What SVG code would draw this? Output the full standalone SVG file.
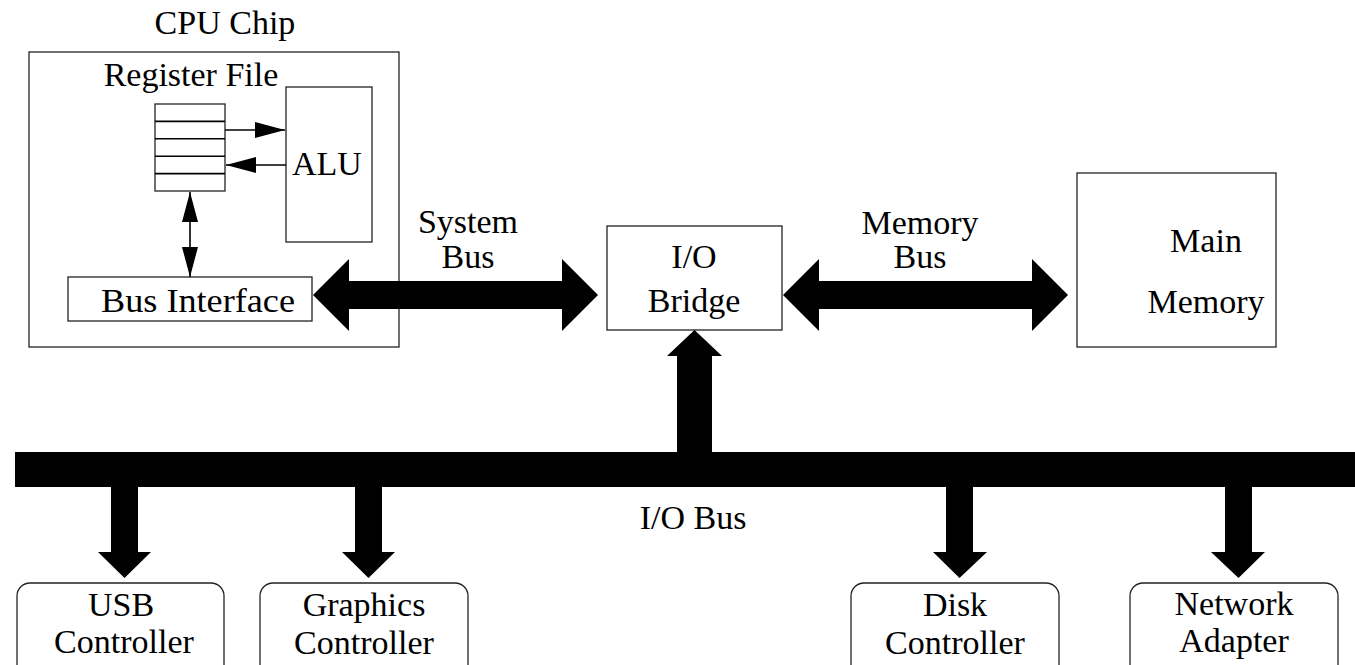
<svg xmlns="http://www.w3.org/2000/svg" width="1355" height="665" viewBox="0 0 1355 665">
<style>
  .t { font-family: 'Liberation Serif', 'Times New Roman', Tinos, 'Nimbus Roman', 'DejaVu Serif', serif; font-size: 34px; fill: #000; text-anchor: middle; }
  .box { fill: #fff; stroke: #222; stroke-width: 1.3; }
  .thin { stroke: #000; stroke-width: 1.6; fill: none; }
  .fat { fill: #000; stroke: none; }
</style>
<defs>
  <marker id="ah" viewBox="0 0 30 16" refX="30" refY="8" markerWidth="30" markerHeight="16" markerUnits="userSpaceOnUse" orient="auto-start-reverse">
    <path d="M0,0 L30,8 L0,16 Z" fill="#000"/>
  </marker>
</defs>
<rect width="1355" height="665" fill="#fff"/>

<g font-family="Liberation Serif, serif" font-size="34" text-anchor="middle">
<g id="cpu-chip">
  <rect class="box" x="29" y="52" width="370" height="295"/>
  <text class="t" x="225" y="34">CPU Chip</text>
</g>
<g id="register-file">
  <text class="t" x="191" y="86">Register File</text>
  <rect class="box" x="155" y="104" width="70" height="87"/>
  <path class="thin" d="M155,121.4 H225 M155,138.8 H225 M155,156.2 H225 M155,173.6 H225" stroke-width="1.2"/>
</g>
<g id="alu">
  <rect class="box" x="286" y="87" width="86" height="155"/>
  <text class="t" x="327" y="175">ALU</text>
</g>
<g id="bus-interface">
  <rect class="box" x="68" y="277" width="244" height="44"/>
  <text class="t" x="198" y="312" textLength="194" lengthAdjust="spacingAndGlyphs">Bus Interface</text>
</g>
<g id="io-bridge">
  <rect class="box" x="607" y="226" width="175" height="104"/>
  <text class="t" x="694" y="268">I/O</text>
  <text class="t" x="694" y="312">Bridge</text>
</g>
<g id="main-memory">
  <rect class="box" x="1077" y="173" width="199" height="174"/>
  <text class="t" x="1206" y="252">Main</text>
  <text class="t" x="1206" y="313">Memory</text>
</g>
<g id="usb-controller">
  <rect class="box" x="17" y="583" width="207" height="100" rx="13"/>
  <text class="t" x="121" y="616">USB</text>
  <text class="t" x="124" y="653">Controller</text>
</g>
<g id="graphics-controller">
  <rect class="box" x="260" y="583" width="208" height="100" rx="13"/>
  <text class="t" x="364" y="616">Graphics</text>
  <text class="t" x="364" y="654">Controller</text>
</g>
<g id="disk-controller">
  <rect class="box" x="851" y="583" width="208" height="100" rx="13"/>
  <text class="t" x="955" y="616">Disk</text>
  <text class="t" x="955" y="654">Controller</text>
</g>
<g id="network-adapter">
  <rect class="box" x="1130" y="583" width="208" height="100" rx="13"/>
  <text class="t" x="1234" y="615">Network</text>
  <text class="t" x="1234" y="652">Adapter</text>
</g>

<g id="connectors">
  <line class="thin" x1="225" y1="130" x2="285" y2="130" marker-end="url(#ah)"/>
  <line class="thin" x1="286" y1="165" x2="226" y2="165" marker-end="url(#ah)"/>
  <line class="thin" x1="190" y1="192" x2="190" y2="277" marker-start="url(#ah)" marker-end="url(#ah)"/>
  <path class="fat" d="M313,295 L349,259 L349,281 L562,281 L562,259 L598,295 L562,331 L562,309 L349,309 L349,331 Z"/>
  <path class="fat" d="M783,295 L819,259 L819,281 L1032,281 L1032,259 L1068,295 L1032,331 L1032,309 L819,309 L819,331 Z"/>
  <rect class="fat" x="15" y="452" width="1340" height="35"/>
  <path class="fat" d="M677,452 L677,356 L667,356 L694.5,330 L722,356 L712,356 L712,452 Z"/>
  <path class="fat" d="M111,487 L138,487 L138,552 L151,552 L124.5,578 L98,552 L111,552 Z"/>
  <path class="fat" d="M355,487 L382,487 L382,552 L395,552 L368.5,578 L342,552 L355,552 Z"/>
  <path class="fat" d="M946,487 L973,487 L973,552 L987,552 L959.5,578 L933,552 L946,552 Z"/>
  <path class="fat" d="M1225,487 L1252,487 L1252,552 L1265,552 L1238.5,578 L1211,552 L1225,552 Z"/>
</g>

<g id="labels">
  <text class="t" x="468" y="233">System</text>
  <text class="t" x="468" y="268">Bus</text>
  <text class="t" x="920" y="234">Memory</text>
  <text class="t" x="920" y="268">Bus</text>
  <text class="t" x="693" y="529">I/O Bus</text>
</g>
</g>
</svg>
